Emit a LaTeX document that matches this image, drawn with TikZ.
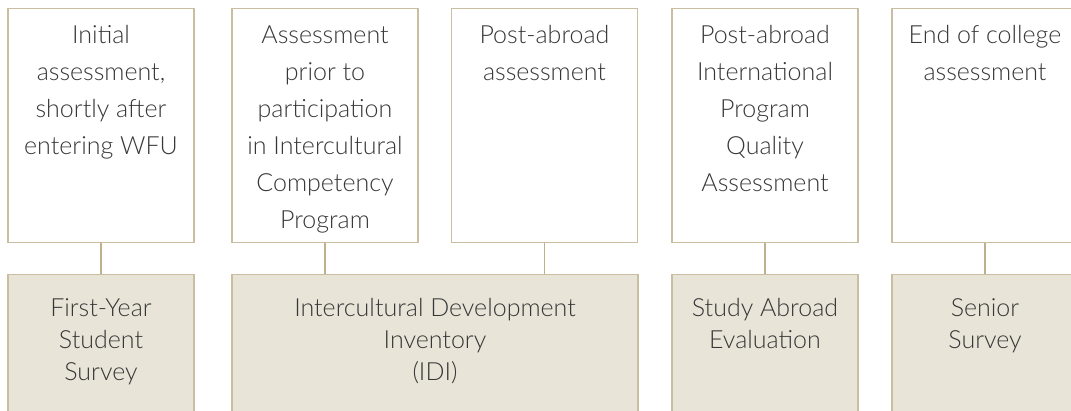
\documentclass[tikz,border=0pt]{standalone}
\usepackage{fontspec}
\setmainfont{Lato Light}
\usepackage{xcolor}
\definecolor{tanline}{RGB}{201,190,160}
\definecolor{tanlink}{RGB}{190,176,140}
\definecolor{beige}{RGB}{233,228,216}
\definecolor{ink}{RGB}{55,55,55}
\newcommand{\toptext}[1]{\parbox[t][234pt][t]{186pt}{\centering\fontsize{25}{37}\selectfont\rule{0pt}{35pt}#1}}
\newcommand{\bottext}[2]{\parbox[t][150pt][t]{#1}{\centering\fontsize{25}{32}\selectfont\rule{0pt}{42pt}#2}}

\begin{document}
\begin{tikzpicture}[x=1pt,y=1pt,
    topbox/.style={draw=tanline,line width=1.2pt,fill=white,text=ink,inner sep=0pt,anchor=north},
    botbox/.style={topbox,fill=beige},
    link/.style={draw=tanlink,line width=1.2pt}]
    \useasboundingbox (0,0) rectangle (1071,-411);
    \clip (0,0) rectangle (1071,-411);
    % assessments
    \node[topbox] (initial) at (101,-8) {\toptext{Initial\\assessment,\\shortly after\\entering WFU}};
    \node[topbox] (prior) at (325,-8) {\toptext{Assessment\\prior to\\participation\\in Intercultural\\Competency\\Program}};
    \node[topbox] (postabroad) at (544.5,-8) {\toptext{Post-abroad\\assessment}};
    \node[topbox] (quality) at (765,-8) {\toptext{Post-abroad\\International\\Program\\Quality\\Assessment}};
    \node[topbox] (endcollege) at (985,-8) {\toptext{End of college\\assessment}};
    % instruments
    \node[botbox] (fysurvey) at (101,-274) {\bottext{186pt}{First-Year\\Student\\Survey}};
    \node[botbox] (idi) at (435,-274) {\bottext{406pt}{Intercultural Development\\Inventory\\(IDI)}};
    \node[botbox] (saeval) at (765,-274) {\bottext{186pt}{Study Abroad\\Evaluation}};
    \node[botbox] (srsurvey) at (985,-274) {\bottext{186pt}{Senior\\Survey}};
    % links
    \draw[link] (initial.south) -- (fysurvey.north);
    \draw[link] (prior.south) -- (prior.south |- idi.north);
    \draw[link] (postabroad.south) -- (postabroad.south |- idi.north);
    \draw[link] (quality.south) -- (saeval.north);
    \draw[link] (endcollege.south) -- (srsurvey.north);
\end{tikzpicture}
\end{document}
